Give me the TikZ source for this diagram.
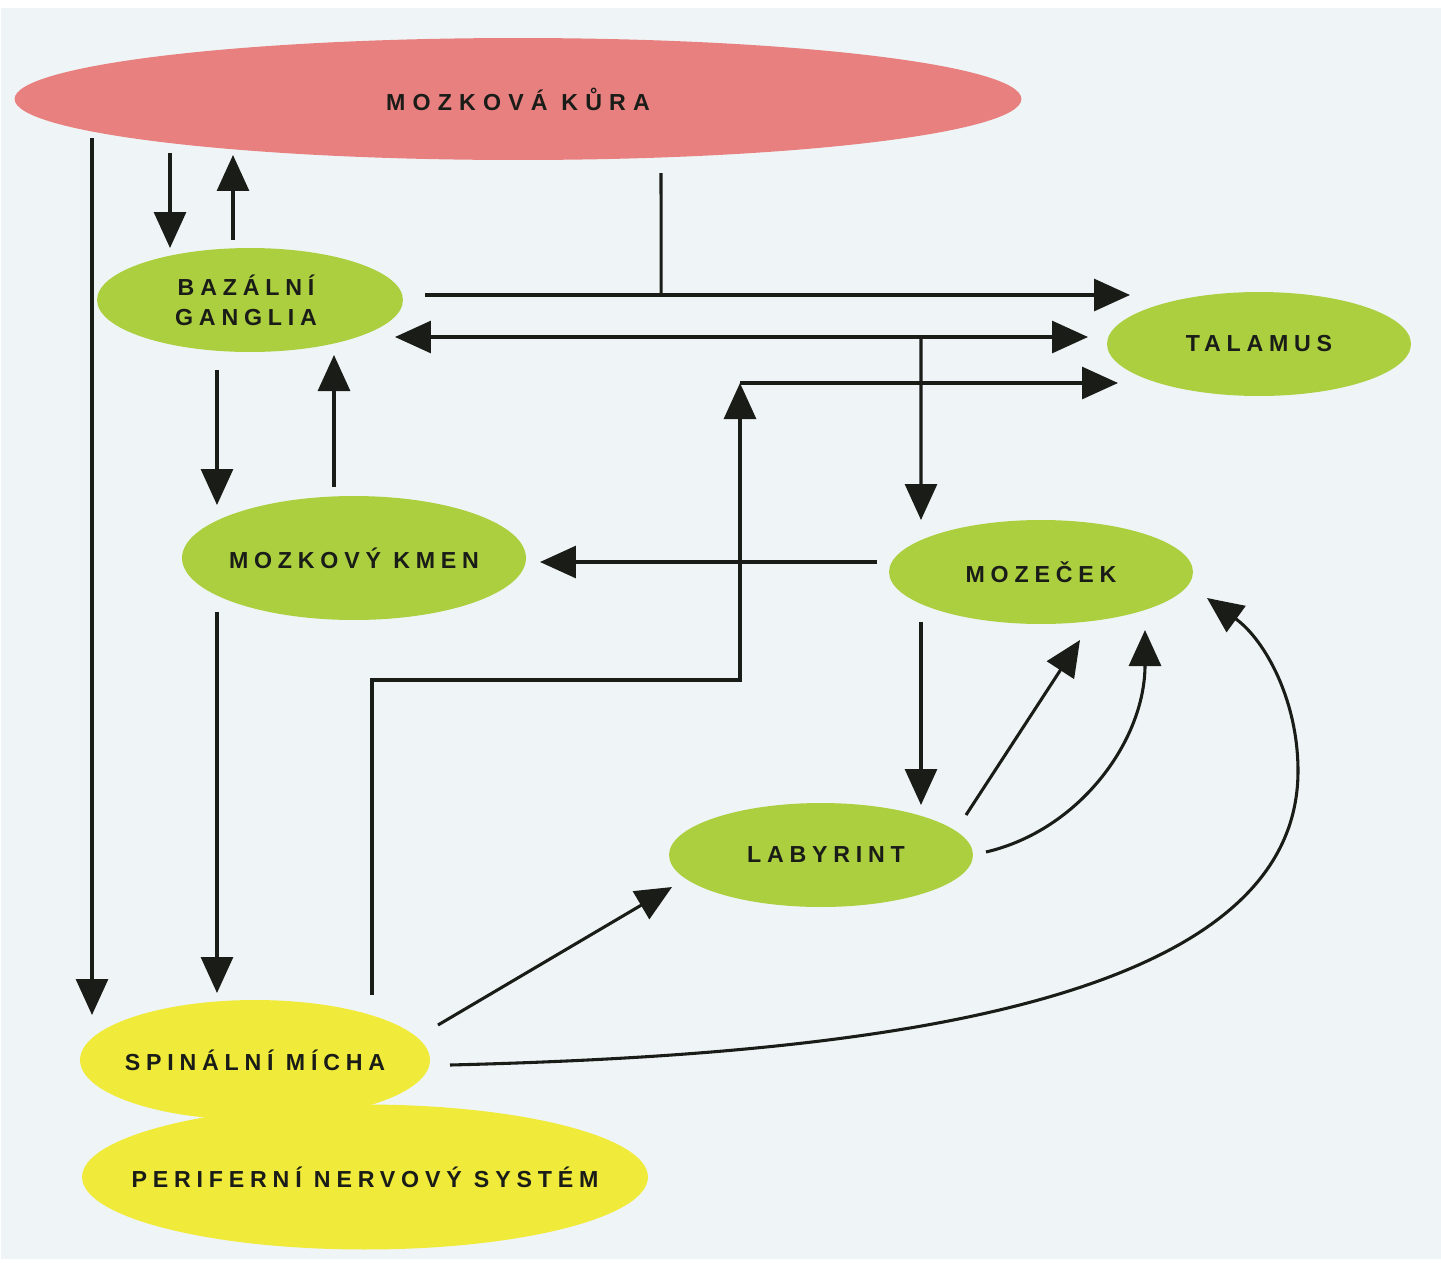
\documentclass[tikz,border=0pt]{standalone}
\usepackage{fontspec}
\usepackage{tikz}
\usetikzlibrary{calc,arrows.meta,shapes.geometric}
\newfontfamily\lblfont{Liberation Sans}[LetterSpace=25]
\newfontfamily\titlefont{Liberation Sans}[LetterSpace=31]
\definecolor{paper}{RGB}{239,245,246}
\definecolor{cortex}{RGB}{232,128,127}
\definecolor{leaf}{RGB}{172,207,64}
\definecolor{sun}{RGB}{240,235,58}
\definecolor{ink}{RGB}{26,28,24}

\begin{document}
\begin{tikzpicture}[x=0.02cm,y=-0.02cm,
    every node/.style={font=\lblfont\bfseries\fontsize{13.2}{17}\selectfont, text=ink},
    organ/.style 2 args={ellipse, inner sep=0pt, minimum width=#1, minimum height=#2},
    >={Triangle[length=0.72cm,width=0.64cm]},
    every path/.style={line width=1.75pt, ink}]
      \useasboundingbox (0,0) rectangle (1441,1262);
      \fill[white] (0,0) rectangle (1441,1262);
      \fill[paper] (1,8) rectangle (1441,1259);
      % nodes
      \node[organ={20.14cm}{2.44cm}, fill=cortex,
            label={[font=\titlefont\bfseries\fontsize{13.2}{17}\selectfont]center:{MOZKOVÁ KŮRA}}] (kura) at (518,99) {};
      \node[organ={6.12cm}{2.08cm}, fill=leaf, label={[align=center,xshift=-0.08cm]center:{BAZÁLNÍ\\GANGLIA}}] (bazalni) at (250,300) {};
      \node[organ={6.08cm}{2.08cm}, fill=leaf, label=center:{TALAMUS}] (talamus) at (1259,344) {};
      \node[organ={6.88cm}{2.48cm}, fill=leaf, label=center:{MOZKOVÝ KMEN}] (kmen) at (354,558) {};
      \node[organ={6.08cm}{2.08cm}, fill=leaf, label=center:{MOZEČEK}] (mozecek) at (1041,572) {};
      \node[organ={6.08cm}{2.08cm}, fill=leaf, label={[xshift=0.1cm]center:{LABYRINT}}] (labyrint) at (821,855) {};
      \node[organ={7cm}{2.4cm}, fill=sun] (micha) at (255,1060) {};
      \node[organ={11.32cm}{2.9cm}, fill=sun, label=center:{PERIFERNÍ NERVOVÝ SYSTÉM}] (pns) at (365,1177) {};
      \node at (micha) {SPINÁLNÍ MÍCHA};
      % cortex
      \draw[->] ($(kura)+(-426,39)$) -- ($(micha)+(-163,-45)$);
      \draw[->] ($(kura)+(-348,54)$) -- ($(bazalni)+(-80,-52)$);
      \draw[->] ($(bazalni)+(-17,-60)$) -- ($(kura)+(-285,56)$);
      % to talamus
      \draw[->] ($(bazalni)+(175,-5)$) -- coordinate[pos=0.335] (j1) ($(talamus)+(-129,-49)$);
      \draw ($(kura)+(143,74)$) -- (j1);
      \draw[<->] ($(bazalni)+(145,37)$) -- coordinate[pos=0.759] (j2) ($(talamus)+(-171,-7)$);
      \draw[->] (j2) -- ($(mozecek)+(-120,-52)$);
      \coordinate (j3) at ($(talamus)+(-519,39)$);
      \draw[->] ($(micha)+(117,-65)$) |- ($(j3)+(0,297)$) -- (j3);
      \draw[->] (j3) -- ($(talamus)+(-141,39)$);
      % brain stem
      \draw[->] ($(bazalni)+(-33,70)$) -- ($(kmen)+(-137,-53)$);
      \draw[->] ($(kmen)+(-20,-71)$) -- ($(bazalni)+(84,55)$);
      \draw[->] ($(mozecek)+(-164,-10)$) -- ($(kmen)+(186,4)$);
      \draw[->] ($(kmen)+(-137,54)$) -- ($(micha)+(-38,-67)$);
      % cerebellum and labyrinth
      \draw[->] ($(mozecek)+(-120,50)$) -- ($(labyrint)+(100,-50)$);
      \draw[->] ($(labyrint)+(145,-40)$) -- ($(mozecek)+(39,68)$);
      \draw[->] ($(labyrint)+(165,-3)$) .. controls +(94,-22) and +(0,110) .. ($(mozecek)+(104,58)$);
      \draw[->] ($(micha)+(195,5)$) .. controls +(400,-10) and +(0,239) .. ($(mozecek)+(257,199)$)
                .. controls +(0,-71) and +(58,42) .. ($(mozecek)+(166,26)$);
      \draw[->] ($(micha)+(183,-35)$) -- ($(labyrint)+(-149,32)$);
    \end{tikzpicture}
\end{document}
